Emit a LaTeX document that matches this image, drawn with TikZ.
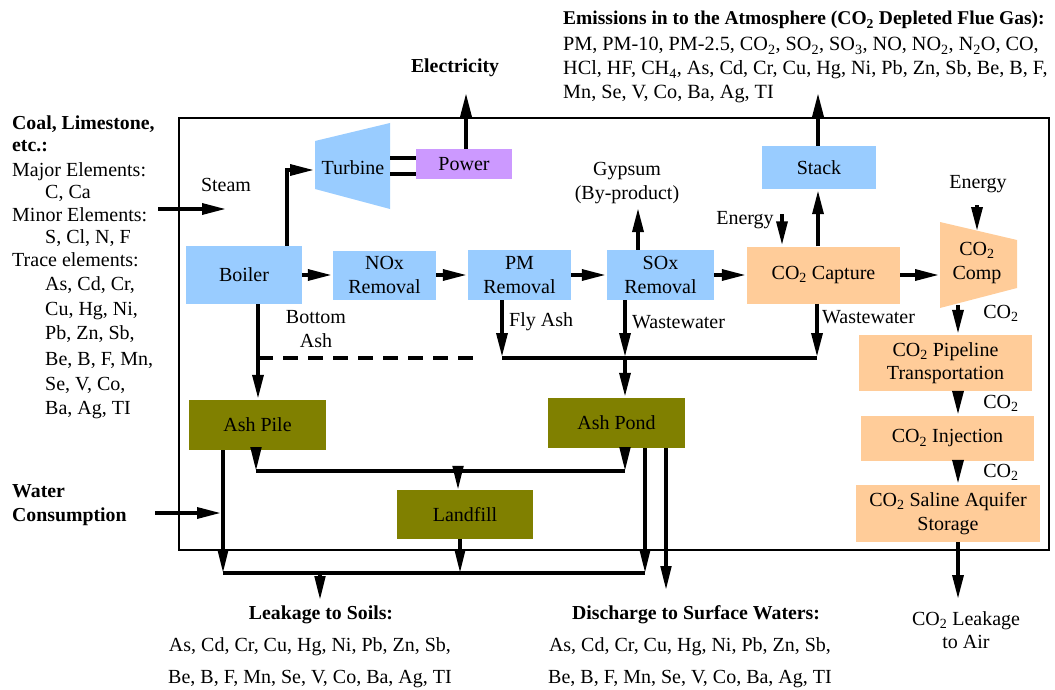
\documentclass[tikz,border=0pt]{standalone}
\usepackage{fontspec}
\setmainfont{Liberation Serif}
\usetikzlibrary{arrows.meta,calc}
\definecolor{boxblue}{HTML}{99CCFF}
\definecolor{boxpurple}{HTML}{CC99FF}
\definecolor{boxorange}{HTML}{FFCC99}
\definecolor{boxolive}{HTML}{808000}
\newcommand{\cotwo}{CO\textsubscript{2}}
\newcommand{\labelfont}{\fontsize{20}{23.5}\selectfont}
\newcommand{\headfont}{\fontsize{19.8}{23.5}\selectfont\bfseries}
\begin{document}
\begin{tikzpicture}[x=1pt,y=-1pt,
  font=\labelfont,
  every node/.style={inner sep=0pt},
  bluebox/.style={fill=boxblue,align=center},
  orangebox/.style={fill=boxorange,align=center},
  olivebox/.style={fill=boxolive,align=center},
  purplebox/.style={fill=boxpurple,align=center},
  txt/.style={anchor=base west},
  ctxt/.style={anchor=base},
  head/.style={font=\headfont},
  arr/.style={line width=4.5pt,line join=miter,-{Triangle[length=25pt,width=10.5pt]}},
  flow/.style={line width=4.5pt,line join=miter},
  thinarr/.style={line width=3.5pt,line join=miter,-{Triangle[length=24pt,width=10.5pt]}},
  thinflow/.style={line width=3.5pt},
  ashdash/.style={line width=4.5pt,dash pattern=on 15pt off 10pt},
  frame/.style={line width=2.5pt}]
\useasboundingbox (0,0) rectangle (1055,690);

% plant boundary
\draw[frame] (179,118) rectangle (1049,550);

% ---- boxes ----
\node[bluebox,minimum width=116pt,minimum height=58pt] (boiler) at (244,275) {Boiler};
\node[bluebox,minimum width=103pt,minimum height=49pt] (nox) at (384.5,275) {NOx\\Removal};
\node[bluebox,minimum width=103pt,minimum height=50pt] (pm) at (519.5,275) {PM\\Removal};
\node[bluebox,minimum width=107pt,minimum height=50pt] (sox) at (660.5,275) {SOx\\Removal};
\node[orangebox,minimum width=153pt,minimum height=57pt] (capture) at (823.5,275) {\cotwo{} Capture};
\node[bluebox,minimum width=114pt,minimum height=43pt] (stack) at (819,167.5) {Stack};
\node[purplebox,minimum width=96pt,minimum height=30pt] (power) at (464,164) {Power};

\fill[boxblue] (315,141) -- (390,123) -- (390,209) -- (315,189) -- cycle;
\node (turbine) at (353,168) {Turbine};
\fill[boxorange] (940,222) -- (1017,240) -- (1017,288) -- (940,308) -- cycle;
\node[align=center] (comp) at (977,263) {\cotwo\\Comp};

\node[orangebox,minimum width=173pt,minimum height=56pt] (pipe) at (945.5,363) {\cotwo{} Pipeline\\Transportation};
\node[orangebox,minimum width=173pt,minimum height=45pt] (inject) at (947.5,438.5) {\cotwo{} Injection};
\node[orangebox,minimum width=184pt,minimum height=57pt] (storage) at (948,513.5) {\cotwo{} Saline Aquifer\\Storage};

\node[olivebox,minimum width=137pt,minimum height=50pt] (ashpile) at (257.5,425) {Ash Pile};
\node[olivebox,minimum width=137pt,minimum height=50pt] (ashpond) at (616.5,423) {Ash Pond};
\node[olivebox,minimum width=136pt,minimum height=49pt] (landfill) at (465,514.5) {Landfill};

% ---- junction points ----
\coordinate (steamx) at (287,170);
\coordinate (turbinein) at (315,170);
\coordinate (tout1) at (390,158);
\coordinate (tout2) at (390,174);
\coordinate (elecin) at (466,92);
\coordinate (emisin) at (818,92);
\coordinate (gypin) at (638,207);
\coordinate (en1s) at (782,214);
\coordinate (en2s) at (977,205);
\coordinate (compin2) at (977,232);
\coordinate (compin) at (940,272);
\coordinate (compout) at (958,305);
\coordinate (leakair) at (958,600);
\coordinate (coalin) at (158,209);
\coordinate (coalend) at (227,209);
\coordinate (waterin) at (155,513);
\coordinate (waterend) at (222,513);
\coordinate (bash) at (258,358);
\coordinate (dashend) at (482,358);
\coordinate (flyash) at (502,358);
\coordinate (ww1) at (625,358);
\coordinate (ww2) at (817,358);
\coordinate (pileout) at (256,471);
\coordinate (pondout) at (625,471);
\coordinate (lfin) at (458,471);
\coordinate (soil1) at (223,573);
\coordinate (soil2) at (645,573);
\coordinate (soil3) at (460,573);
\coordinate (soilout) at (320,573);
\coordinate (soilend) at (320,600);
\coordinate (surfx) at (666,590);

% ---- gas path ----
\draw[arr] (boiler.east) -- (nox.west);
\draw[arr] (nox.east) -- (pm.west);
\draw[arr] (pm.east) -- (sox.west);
\draw[arr] (sox.east) -- (capture.west);
\draw[arr] (capture.east) -- (capture.east -| compin);
\draw[arr] (boiler.north -| steamx) |- (turbinein);
\draw[flow] (tout1) -- (tout1 -| power.west);
\draw[flow] (tout2) -- (tout2 -| power.west);
\draw[arr] (power.north -| elecin) -- (elecin);
\draw[arr] (capture.north -| emisin) -- (stack.south -| emisin);
\draw[arr] (stack.north -| emisin) -- (emisin);
\draw[arr] (sox.north -| gypin) -- (gypin);
\draw[arr] (en1s) -- (capture.north -| en1s);
\draw[arr] (en2s) -- (compin2);
\draw[arr] (coalin) -- (coalend);
\draw[arr] (waterin) -- (waterend);

% ---- CO2 chain ----
\draw[arr] (compout) -- (pipe.north -| compout);
\draw[arr] (pipe.south -| compout) -- (inject.north -| compout);
\draw[arr] (inject.south -| compout) -- (storage.north -| compout);
\draw[arr] (storage.south -| compout) -- (leakair);

% ---- solids and wastewater ----
\draw[arr] (boiler.south -| bash) -- (ashpile.north -| bash);
\draw[ashdash] (bash) -- (dashend);
\draw[arr] (pm.south -| flyash) -- (flyash);
\draw[arr] (sox.south -| ww1) -- (ww1);
\draw[arr] (capture.south -| ww2) -- (ww2);
\draw[flow] (flyash) -- (ww2);
\draw[arr] (ww1) -- (ashpond.north -| ww1);

\draw[thinarr] (ashpile.south -| pileout) -- (pileout);
\draw[thinarr] (ashpond.south -| pondout) -- (pondout);
\draw[thinflow] (pileout) -- (pondout);
\draw[thinarr] (lfin) -- (landfill.north -| lfin);

\draw[thinarr] (ashpile.south -| soil1) -- (soil1);
\draw[thinarr] (ashpond.south -| soil2) -- (soil2);
\draw[thinarr] (landfill.south -| soil3) -- (soil3);
\draw[thinflow] (soil1) -- (soil2);
\draw[thinarr] (soilout) -- (soilend);
\draw[thinarr] (ashpond.south -| surfx) -- (surfx);

% ---- labels ----
\node[ctxt] (steam) at (226,191) {Steam};
\node[align=center] (bottomash) at (316,329) {Bottom\\Ash};
\node[anchor=west] (flylbl) at (509,322) {Fly Ash};
\node[anchor=west] (ww1lbl) at (632,322) {Wastewater};
\node[anchor=west] (ww2lbl) at (822,317) {Wastewater};
\node[align=center] (gyp) at (627,183) {Gypsum\\(By-product)};
\node (en1) at (745,220) {Energy};
\node (en2) at (978,184) {Energy};
\node (c1) at (1001,313) {\cotwo};
\node (c2) at (1001,403) {\cotwo};
\node (c3) at (1001,472) {\cotwo};
\node[align=center] (leaklbl) at (966,630) {\cotwo{} Leakage\\to Air};
\node[ctxt,head] (elec) at (455,73) {Electricity};

% inputs
\node[txt,head] (in1) at (12,130) {Coal, Limestone,};
\node[txt,head] (in2) at (12,152) {etc.:};
\node[txt] (in3) at (12,176) {Major Elements:};
\node[txt] (in4) at (45,198) {C, Ca};
\node[txt] (in5) at (12,221) {Minor Elements:};
\node[txt] (in6) at (45,243) {S, Cl, N, F};
\node[txt] (in7) at (12,266) {Trace elements:};
\node[txt] (in8) at (45,290) {As, Cd, Cr,};
\node[txt] (in9) at (45,315) {Cu, Hg, Ni,};
\node[txt] (in10) at (45,339) {Pb, Zn, Sb,};
\node[txt] (in11) at (45,365) {Be, B, F, Mn,};
\node[txt] (in12) at (45,390) {Se, V, Co,};
\node[txt] (in13) at (45,414) {Ba, Ag, TI};
\node[txt,head] (wat1) at (12,497) {Water};
\node[txt,head] (wat2) at (12,521) {Consumption};

% emissions
\node[txt,font=\fontsize{19.5}{23.5}\selectfont\bfseries] (em1) at (563,25) {Emissions in to the Atmosphere (\cotwo{} Depleted Flue Gas):};
\node[txt,font=\fontsize{20.2}{23.5}\selectfont] (em2) at (563,51) {PM, PM-10, PM-2.5, \cotwo, SO\textsubscript{2}, SO\textsubscript{3}, NO, NO\textsubscript{2}, N\textsubscript{2}O, CO,};
\node[txt,font=\fontsize{20.2}{23.5}\selectfont] (em3) at (563,75) {HCl, HF, CH\textsubscript{4}, As, Cd, Cr, Cu, Hg, Ni, Pb, Zn, Sb, Be, B, F,};
\node[txt,font=\fontsize{20.2}{23.5}\selectfont] (em4) at (563,99) {Mn, Se, V, Co, Ba, Ag, TI};

% outputs
\node[ctxt,head] (soilhd) at (321,619) {Leakage to Soils:};
\node[ctxt] (soilt1) at (310,651) {As, Cd, Cr, Cu, Hg, Ni, Pb, Zn, Sb,};
\node[ctxt] (soilt2) at (310,683) {Be, B, F, Mn, Se, V, Co, Ba, Ag, TI};
\node[ctxt,head] (surfhd) at (696,619) {Discharge to Surface Waters:};
\node[ctxt] (surft1) at (690,651) {As, Cd, Cr, Cu, Hg, Ni, Pb, Zn, Sb,};
\node[ctxt] (surft2) at (690,683) {Be, B, F, Mn, Se, V, Co, Ba, Ag, TI};
\end{tikzpicture}
\end{document}
